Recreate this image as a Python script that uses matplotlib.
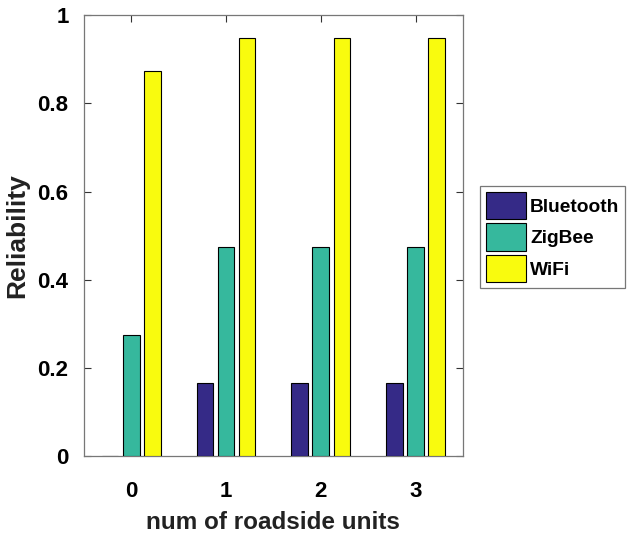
import matplotlib.pyplot as plt
import numpy as np

units = [0, 1, 2, 3]
bluetooth = [0.0, 0.167, 0.167, 0.167]
zigbee = [0.274, 0.474, 0.474, 0.474]
wifi = [0.873, 0.949, 0.949, 0.949]
names = ['Bluetooth', 'ZigBee', 'WiFi']
colors = ['#352A87', '#36B89D', '#F9FB0E']

plt.rcParams['font.family'] = ['Liberation Sans', 'DejaVu Sans']
plt.rcParams['font.weight'] = 'bold'

fig = plt.figure(figsize=(6.3, 5.45), dpi=100)
ax = fig.add_axes([0.133, 0.163, 0.602, 0.809])

x = np.arange(len(units))
w = 0.176
off = 0.222
for i, (vals, nm, c) in enumerate(zip([bluetooth, zigbee, wifi], names, colors)):
    ax.bar(x + (i - 1) * off, vals, w, color=c, edgecolor='black', linewidth=0.8,
           label=nm, zorder=3)

ax.set_xlim(-0.5, 3.5)
ax.set_ylim(0, 1)
ax.set_xticks(x)
ax.set_xticklabels([str(u) for u in units])
ax.set_yticks([0, 0.2, 0.4, 0.6, 0.8, 1])
ax.set_yticklabels(['0', '0.2', '0.4', '0.6', '0.8', '1'])
ax.tick_params(direction='in', top=True, right=True, labelsize=16, length=5, color='#333333')
ax.tick_params(axis='x', pad=18)
ax.tick_params(axis='y', pad=11)
for s in ax.spines.values():
    s.set_color('#777777')
    s.set_linewidth(0.9)

ax.set_xlabel('num of roadside units', fontsize=17.5, fontweight='bold', color='#222222')
ax.xaxis.set_label_coords(0.5, -0.125)
ax.set_ylabel('Reliability', fontsize=19, fontweight='bold', color='#222222')
ax.yaxis.set_label_coords(-0.145, 0.5)

leg = ax.legend(loc='center left', bbox_to_anchor=(1.045, 0.497), fontsize=13.8, frameon=True,
                fancybox=False, edgecolor='#555555', handlelength=2.1, handleheight=1.85,
                handletextpad=0.2, borderpad=0.3, labelspacing=0.2, borderaxespad=0)
leg.get_frame().set_linewidth(0.9)
for t in leg.get_texts():
    t.set_fontweight('bold')

plt.savefig('out.png', dpi=100)
